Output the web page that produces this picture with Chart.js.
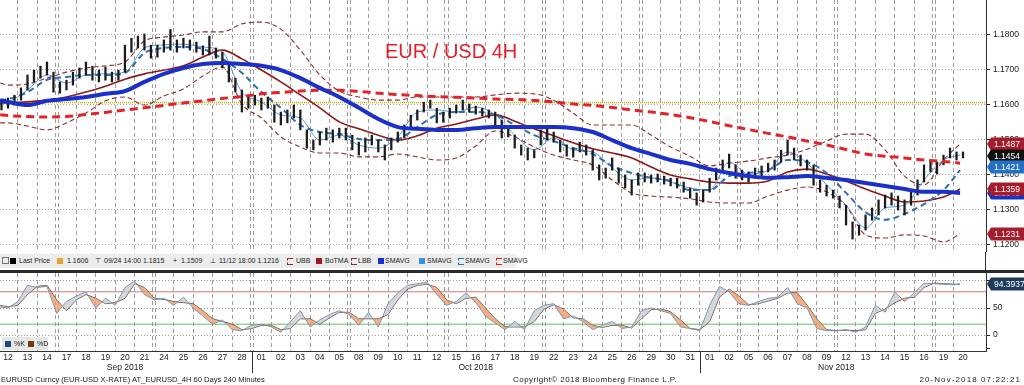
<!DOCTYPE html>
<html>
<head>
<meta charset="utf-8">
<script src="https://cdn.jsdelivr.net/npm/chart.js@4.4.1/dist/chart.umd.min.js"></script>
<style>
  body { margin: 0; background: #fff; font-family: "Liberation Sans", Arial, sans-serif; }
  #page { position: relative; width: 1024px; height: 385px; overflow: hidden; background: #fff; }
  .abs { position: absolute; }
  #mainBox { left: 0; top: 0; width: 1024px; height: 252px; }
  #stochBox { left: 0; top: 273px; width: 1024px; height: 112px; }
  #title { left: 385px; top: 41px; font-size: 20px; line-height: 20px; color: #e3202a; white-space: nowrap; }
  #legend { left: 0; top: 254px; width: 516px; height: 14px; background: #ececec; font-size: 7px; line-height: 14px; color: #222; }
  #legend span, #stochLegend span { position: absolute; white-space: nowrap; }
  .sq { width: 6px; height: 6px; top: 4px; }
  .dsh { width: 5px; height: 5px; top: 4px; border: 1px dashed; border-right: none; }
  #axisStub { left: 985px; top: 252px; width: 1px; height: 18px; background: #333; }
  #sep { left: 0; top: 270px; width: 1024px; height: 3px; background: #2b2b2b; }
  #stochLegend { left: 2px; top: 337px; width: 46px; height: 13px; background: #e6e6e6; font-size: 7px; line-height: 13px; color: #222; }
  .foot { top: 374px; font-size: 8px; line-height: 12px; color: #222; white-space: nowrap; }
</style>
</head>
<body>
<div id="page">
  <div id="mainBox" class="abs"><canvas id="mainChart"></canvas></div>
  <div id="stochBox" class="abs"><canvas id="stochChart"></canvas></div>

  <div id="title" class="abs">EUR / USD 4H</div>

  <div id="legend" class="abs">
    <span style="left:2px;top:3px;width:5px;height:5px;border:1px solid #777;"></span>
    <span class="sq" style="left:10px;background:#000"></span>
    <span style="left:19px">Last Price</span>
    <span class="sq" style="left:57px;background:#f0a030"></span>
    <span style="left:67px">1.1606</span>
    <span style="left:95px">&#8868;</span>
    <span style="left:104px">09/24 14:00 1.1815</span>
    <span style="left:173px">+</span>
    <span style="left:181px">1.1509</span>
    <span style="left:210px">&#8869;</span>
    <span style="left:219px">11/12 18:00 1.1216</span>
    <span class="dsh" style="left:287px;border-color:#8b3030"></span>
    <span style="left:296px">UBB</span>
    <span class="sq" style="left:316px;background:#a01828"></span>
    <span style="left:325px">BoTMA</span>
    <span class="dsh" style="left:351px;border-color:#8b3030"></span>
    <span style="left:358px">LBB</span>
    <span class="sq" style="left:378px;background:#1a30c8"></span>
    <span style="left:385px">SMAVG</span>
    <span class="sq" style="left:419px;background:#3a90e0"></span>
    <span style="left:427px">SMAVG</span>
    <span class="dsh" style="left:458px;border-color:#2f6fb0"></span>
    <span style="left:465px">SMAVG</span>
    <span class="dsh" style="left:496px;border-color:#e02020"></span>
    <span style="left:503px">SMAVG</span>
  </div>
  <div id="axisStub" class="abs"></div>
  <div id="sep" class="abs"></div>

  <div id="stochLegend" class="abs">
    <span class="sq" style="left:3px;background:#1f4a78"></span><span style="left:12px">%K</span>
    <span class="sq" style="left:26px;background:#7a3810"></span><span style="left:35px">%D</span>
  </div>

  <div class="abs foot" style="left:1px;font-size:7.6px">EURUSD Curncy (EUR-USD X-RATE) AT_EURUSD_4H 60 Days 240 Minutes</div>
  <div class="abs foot" style="left:513px;letter-spacing:0.45px">Copyright&copy; 2018 Bloomberg Finance L.P.</div>
  <div class="abs foot" style="right:3px;letter-spacing:1.1px">20-Nov-2018 07:22:21</div>
</div>

<script type="text/javascript">
    // trading days shown on the axis (MM-DD, 2018)
    const days = ['09-12','09-13','09-14','09-17','09-18','09-19','09-20','09-21','09-24','09-25','09-26','09-27','09-28',
        '10-01','10-02','10-03','10-04','10-05','10-08','10-09','10-10','10-11','10-12','10-15','10-16','10-17','10-18','10-19',
        '10-22','10-23','10-24','10-25','10-26','10-29','10-30','10-31',
        '11-01','11-02','11-05','11-06','11-07','11-08','11-09','11-12','11-13','11-14','11-15','11-16','11-19','11-20'];
    const monthAbbr = ['Jan','Feb','Mar','Apr','May','Jun','Jul','Aug','Sep','Oct','Nov','Dec'];

    // price bars, 3 per trading day (low / high)
    const barLows = [1.1585,1.1590,1.1599,1.1613,1.1642,1.1665,1.1676,1.1685,1.1636,1.1633,1.1642,1.1656,1.1676,1.1685,1.1670,1.1665,1.1670,1.1665,1.1670,1.1693,
        1.1750,1.1762,1.1756,1.1733,1.1736,1.1750,1.1756,1.1750,1.1762,1.1756,1.1750,1.1742,1.1742,1.1733,1.1705,1.1665,1.1636,1.1579,1.1590,1.1599,
        1.1585,1.1590,1.1550,1.1542,1.1548,1.1562,1.1528,1.1476,1.1471,1.1485,1.1499,1.1493,1.1505,1.1499,1.1471,1.1456,1.1465,1.1485,1.1465,1.1442,
        1.1471,1.1493,1.1505,1.1533,1.1556,1.1579,1.1590,1.1548,1.1550,1.1562,1.1576,1.1585,1.1579,1.1573,1.1568,1.1562,1.1542,1.1505,1.1508,1.1476,
        1.1456,1.1442,1.1448,1.1485,1.1499,1.1493,1.1465,1.1453,1.1450,1.1465,1.1456,1.1413,1.1385,1.1390,1.1413,1.1376,1.1362,1.1342,1.1370,1.1379,
        1.1376,1.1379,1.1373,1.1368,1.1362,1.1350,1.1333,1.1313,1.1322,1.1350,1.1385,1.1408,1.1419,1.1390,1.1385,1.1379,1.1390,1.1396,1.1408,1.1413,
        1.1436,1.1456,1.1442,1.1425,1.1413,1.1370,1.1350,1.1339,1.1333,1.1305,1.1256,1.1216,1.1227,1.1242,1.1270,1.1285,1.1305,1.1313,1.1299,1.1285,
        1.1313,1.1342,1.1379,1.1408,1.1402,1.1428,1.1448,1.1442,1.1448];
    const barHighs = [1.1613,1.1619,1.1627,1.1648,1.1685,1.1699,1.1710,1.1722,1.1693,1.1665,1.1670,1.1693,1.1705,1.1722,1.1710,1.1699,1.1707,1.1693,1.1699,1.1770,
        1.1790,1.1796,1.1802,1.1770,1.1770,1.1785,1.1815,1.1785,1.1790,1.1785,1.1779,1.1768,1.1796,1.1762,1.1750,1.1722,1.1676,1.1642,1.1627,1.1627,
        1.1619,1.1622,1.1599,1.1579,1.1585,1.1599,1.1585,1.1528,1.1499,1.1522,1.1533,1.1528,1.1533,1.1533,1.1513,1.1493,1.1505,1.1513,1.1499,1.1485,
        1.1505,1.1522,1.1542,1.1570,1.1585,1.1607,1.1613,1.1590,1.1579,1.1590,1.1599,1.1613,1.1602,1.1596,1.1590,1.1585,1.1579,1.1556,1.1533,1.1513,
        1.1485,1.1476,1.1471,1.1528,1.1533,1.1522,1.1499,1.1485,1.1476,1.1493,1.1485,1.1471,1.1428,1.1419,1.1448,1.1419,1.1399,1.1385,1.1405,1.1405,
        1.1399,1.1402,1.1396,1.1390,1.1390,1.1379,1.1362,1.1348,1.1356,1.1390,1.1419,1.1442,1.1459,1.1428,1.1413,1.1408,1.1419,1.1425,1.1433,1.1442,
        1.1470,1.1499,1.1476,1.1456,1.1442,1.1428,1.1385,1.1370,1.1356,1.1339,1.1313,1.1265,1.1256,1.1285,1.1305,1.1328,1.1342,1.1348,1.1339,1.1328,
        1.1356,1.1385,1.1428,1.1442,1.1436,1.1456,1.1476,1.1465,1.1465];

    // overlays, one value per trading day (plus the two chart edges)
    const ubb = [1.1662,1.1656,1.1659,1.1676,1.1693,1.1705,1.1711,1.1722,1.1782,1.1793,1.1799,1.1808,1.1808,1.1831,1.1836,1.1816,1.1756,1.1685,1.1639,1.1622,
        1.1613,1.1613,1.1622,1.1622,1.1622,1.1622,1.1628,1.1633,1.1631,1.1613,1.1576,1.1542,1.1542,1.1542,1.1513,1.1479,1.1453,1.1425,1.1433,1.1439,
        1.1448,1.1456,1.1473,1.1496,1.1516,1.1516,1.1471,1.1396,1.1371,1.1442,1.1488];
    const botma = [1.1605,1.1605,1.1608,1.1613,1.1622,1.1636,1.1653,1.1673,1.1688,1.1699,1.1711,1.1736,1.1756,1.1731,1.1699,1.1665,1.1628,1.1591,1.1551,1.1531,
        1.1513,1.1499,1.1511,1.1533,1.1545,1.1559,1.1571,1.1553,1.1531,1.1511,1.1491,1.1474,1.1462,1.1448,1.1422,1.1399,1.1388,1.1379,1.1376,1.1376,
        1.1382,1.1408,1.1416,1.1402,1.1382,1.1359,1.1339,1.1322,1.1325,1.1336,1.1359];
    const lbb = [1.1548,1.1548,1.1539,1.1528,1.1548,1.1576,1.1611,1.1622,1.1599,1.1625,1.1645,1.1682,1.1708,1.1602,1.1562,1.1508,1.1479,1.1462,1.1462,1.1451,
        1.1451,1.1459,1.1451,1.1442,1.1448,1.1482,1.1525,1.1508,1.1479,1.1456,1.1442,1.1428,1.1385,1.1348,1.1339,1.1336,1.1331,1.1322,1.1319,1.1319,
        1.1339,1.1356,1.1365,1.1351,1.1311,1.1228,1.1219,1.1228,1.1225,1.1208,1.1231];
    const smaThick = [1.1613,1.1608,1.1599,1.1611,1.1616,1.1622,1.1631,1.1639,1.1665,1.1688,1.1705,1.1716,1.1719,1.1716,1.1711,1.1699,1.1676,1.1648,1.1622,1.1591,
        1.1559,1.1536,1.1531,1.1528,1.1528,1.1533,1.1536,1.1536,1.1536,1.1536,1.1533,1.1522,1.1499,1.1476,1.1459,1.1442,1.1431,1.1416,1.1405,1.1396,
        1.1391,1.1393,1.1396,1.1391,1.1385,1.1376,1.1368,1.1359,1.1351,1.1351,1.1348];
    const smaLight = [1.1605,1.1608,1.1642,1.1685,1.1662,1.1685,1.1688,1.1693,1.1762,1.1771,1.1773,1.1765,1.1751,1.1636,1.1608,1.1571,1.1562,1.1499,1.1513,1.1485,
        1.1476,1.1508,1.1579,1.1585,1.1579,1.1593,1.1571,1.1513,1.1471,1.1505,1.1471,1.1465,1.1419,1.1385,1.1391,1.1379,1.1362,1.1356,1.1436,1.1402,
        1.1413,1.1465,1.1433,1.1371,1.1313,1.1248,1.1305,1.1313,1.1385,1.1442,1.1456];
    const smaSteel = [1.1613,1.1616,1.1636,1.1671,1.1679,1.1685,1.1685,1.1691,1.1748,1.1762,1.1765,1.1759,1.1731,1.1691,1.1636,1.1591,1.1542,1.1522,1.1516,1.1502,
        1.1499,1.1502,1.1536,1.1571,1.1579,1.1579,1.1571,1.1542,1.1513,1.1496,1.1476,1.1459,1.1425,1.1405,1.1391,1.1382,1.1356,1.1356,1.1396,1.1405,
        1.1413,1.1442,1.1436,1.1405,1.1348,1.1293,1.1271,1.1288,1.1316,1.1356,1.1413];
    const smaRed = [1.1571,1.1569,1.1566,1.1565,1.1566,1.1572,1.1578,1.1585,1.1591,1.1598,1.1605,1.1611,1.1618,1.1623,1.1631,1.1635,1.1639,1.1641,1.1641,1.1638,
        1.1633,1.1629,1.1626,1.1623,1.1621,1.1619,1.1616,1.1615,1.1612,1.1608,1.1602,1.1598,1.1592,1.1585,1.1579,1.1572,1.1563,1.1552,1.1540,1.1529,
        1.1518,1.1508,1.1496,1.1485,1.1472,1.1459,1.1453,1.1448,1.1442,1.1438,1.1433];
    const lastPriceLine = 1.1606;
    const priceTicks = [1.12, 1.13, 1.14, 1.15, 1.16, 1.17, 1.18];
    const priceTags = [1.1487, 1.1454, 1.1421, 1.1348, 1.1359, 1.1231];
    const priceTagColors = ['#a51d2d', '#111111', '#2470c6', '#1a32c0', '#a51d2d', '#a51d2d'];

    // stochastics, two readings per trading day (plus the two chart edges)
    const stochK = [52, 50,62, 92,88, 90,40, 62,72, 80,50, 68,55, 88,100, 75,65, 68,55, 70,50, 35,20, 28,10, 8,18, 20,15, 5,25,
        45,15, 28,38, 45,38, 18,42, 15,58, 78,92, 95,98, 75,55, 62,78, 60,35, 22,10, 25,10, 45,55, 58,30, 35,25, 10,18,
        25,12, 15,45, 50,45, 40,15, 12,8, 55,90, 80,58, 55,62, 68,70, 88,58, 50,12, 8,8, 10,5, 15,55, 42,80, 62,78, 96,95, 94,93, 94.4];
    const stochD = [55, 52,55, 75,90, 92,65, 45,65, 75,68, 58,60, 68,95, 88,68, 66,62, 60,58, 45,30, 25,20, 10,12, 18,18, 10,12,
        30,30, 20,32, 42,42, 30,30, 30,38, 65,85, 92,94, 88,65, 58,68, 70,50, 30,15, 15,15, 25,48, 56,48, 32,30, 18,14,
        18,18, 13,30, 47,48, 43,28, 12,10, 25,70, 85,72, 56,58, 63,68, 78,78, 55,30, 10,8, 9,8, 10,40, 48,60, 68,70, 88,96, 95,94, 94];
    const stochUpper = 80;
    const stochLower = 20;
    const stochTicks = [-25, 0, 50, 100];
    const stochTag = 94.3937;

    const X_MIN = -0.41, X_MAX = 50.18;
    const Y_MIN = 1.117914, Y_MAX = 1.189914;
    const S_MIN = -29.6, S_MAX = 114.8;

    Chart.defaults.font.family = '"Liberation Sans", Arial, sans-serif';
    Chart.defaults.font.size = 8.5;
    Chart.defaults.color = '#222';

    const dates = days.map(s => new Date(2018, Number(s.slice(0, 2)) - 1, Number(s.slice(3))));
    const DAY_MS = 86400000;

    // day boundaries, doubled over weekends
    const gridTicks = [];
    for (let i = 0; i < dates.length - 1; i++) {
        const b = i + 0.5;
        if (dates[i + 1] - dates[i] > 1.5 * DAY_MS) gridTicks.push(b - 0.08, b + 0.08);
        else gridTicks.push(b);
    }

    function dayPos(t) {
        for (let i = 0; i < dates.length - 1; i++) {
            if (t >= dates[i] && t <= dates[i + 1]) return i + (t - dates[i]) / (dates[i + 1] - dates[i]);
        }
        return dates.length - 1;
    }
    const months = [];
    dates.forEach((d, i) => {
        let cur = months[months.length - 1];
        if (!cur || cur.m !== d.getMonth()) {
            cur = {m: d.getMonth(), first: d, start: i};
            months.push(cur);
        }
        cur.last = d;
    });
    months.forEach(mo => {
        mo.center = dayPos(new Date((mo.first.getTime() + mo.last.getTime()) / 2));
        mo.name = monthAbbr[mo.m] + ' ' + mo.first.getFullYear();
    });

    const lineDays = [-0.4, ...Array.from({length: 49}, (_, i) => i), 48.85];
    const stochTimes = [-0.4, ...Array.from({length: 98}, (_, i) => i / 2), 48.85];
    const pts = (xs, vals) => vals.map((v, i) => ({x: xs[i], y: v}));
    const flat = v => [{x: X_MIN, y: v}, {x: X_MAX, y: v}];
    const bars = barLows.map((lo, j) => ({x: (j - 1) / 3, y: [lo, barHighs[j]]}));

    function makeTagPlugin(values, colors, texts) {
        return {
            id: 'tags',
            afterDraw(chart) {
                const ctx = chart.ctx;
                const y = chart.scales.y;
                const x0 = chart.chartArea.right;
                values.forEach((v, i) => {
                    const py = Math.round(y.getPixelForValue(v));
                    ctx.save();
                    ctx.fillStyle = colors[i];
                    ctx.beginPath();
                    ctx.moveTo(x0 + 1, py);
                    ctx.lineTo(x0 + 5, py - 6.5);
                    ctx.lineTo(chart.width, py - 6.5);
                    ctx.lineTo(chart.width, py + 6.5);
                    ctx.lineTo(x0 + 5, py + 6.5);
                    ctx.closePath();
                    ctx.fill();
                    ctx.fillStyle = '#fff';
                    ctx.font = '8.5px "Liberation Sans", Arial, sans-serif';
                    ctx.textBaseline = 'middle';
                    ctx.fillText(texts[i], x0 + 8, py + 0.5);
                    ctx.restore();
                });
            }
        };
    }

    const monthPlugin = {
        id: 'months',
        afterDraw(chart) {
            const ctx = chart.ctx;
            const x = chart.scales.x;
            const bottom = chart.chartArea.bottom;
            ctx.save();
            ctx.fillStyle = '#222';
            ctx.font = '8.5px "Liberation Sans", Arial, sans-serif';
            ctx.textAlign = 'center';
            ctx.textBaseline = 'middle';
            months.forEach(mo => ctx.fillText(mo.name, x.getPixelForValue(mo.center), bottom + 17));
            ctx.strokeStyle = '#333';
            ctx.lineWidth = 1;
            months.slice(1).forEach(mo => {
                const px = Math.round(x.getPixelForValue(mo.start - 0.5)) + 0.5;
                ctx.beginPath();
                ctx.moveTo(px, bottom);
                ctx.lineTo(px, bottom + 22);
                ctx.stroke();
            });
            ctx.restore();
        }
    };

    const smooth = {pointRadius: 0, cubicInterpolationMode: 'monotone', fill: false};

    new Chart(document.getElementById('mainChart'), {
        type: 'line',
        data: {
            datasets: [
                {type: 'bar', data: bars, backgroundColor: '#1b1b1b', barThickness: 1.6, order: 3},
                Object.assign({data: pts(lineDays, smaThick), borderColor: '#1a30c8', borderWidth: 4, order: 1}, smooth),
                Object.assign({data: pts(lineDays, smaRed), borderColor: '#e4222a', borderWidth: 3, borderDash: [8, 5], order: 2}, smooth),
                Object.assign({data: pts(lineDays, smaSteel), borderColor: '#2f6fb0', borderWidth: 2, borderDash: [6, 4], order: 4}, smooth),
                Object.assign({data: pts(lineDays, smaLight), borderColor: '#5a9ad6', borderWidth: 1, order: 5}, smooth),
                Object.assign({data: pts(lineDays, botma), borderColor: '#8b1a1a', borderWidth: 1.6, order: 6}, smooth),
                Object.assign({data: pts(lineDays, ubb), borderColor: '#8b3030', borderWidth: 1.1, borderDash: [5, 3], order: 7}, smooth),
                Object.assign({data: pts(lineDays, lbb), borderColor: '#8b3030', borderWidth: 1.1, borderDash: [5, 3], order: 7}, smooth),
                {data: flat(lastPriceLine), borderColor: '#c9b400', borderWidth: 1.5, borderDash: [1, 1], pointRadius: 0, order: 9}
            ]
        },
        options: {
            animation: false,
            responsive: true,
            maintainAspectRatio: false,
            events: [],
            layout: {padding: 0},
            plugins: {legend: {display: false}, tooltip: {enabled: false}},
            scales: {
                x: {
                    type: 'linear', min: X_MIN, max: X_MAX, offset: false,
                    afterBuildTicks: s => { s.ticks = gridTicks.map(v => ({value: v})); },
                    afterFit: s => { s.height = 0; s.paddingLeft = 0; s.paddingRight = 0; },
                    ticks: {display: false},
                    grid: {offset: false, color: '#9d9d9d', drawTicks: false},
                    border: {display: false, dash: [4, 3]}
                },
                y: {
                    position: 'right', min: Y_MIN, max: Y_MAX,
                    afterBuildTicks: s => { s.ticks = priceTicks.map(v => ({value: v})); },
                    afterFit: s => { s.width = 38; s.paddingTop = 0; s.paddingBottom = 0; },
                    ticks: {callback: v => v.toFixed(4), padding: 3, color: '#222'},
                    grid: {color: '#a5a5a5', tickColor: '#222', tickLength: 4},
                    border: {display: true, color: '#333', dash: [1, 2]}
                }
            }
        },
        plugins: [makeTagPlugin(priceTags, priceTagColors, priceTags.map(v => v.toFixed(4)))]
    });

    new Chart(document.getElementById('stochChart'), {
        type: 'line',
        data: {
            datasets: [
                {data: pts(stochTimes, stochK), xAxisID: 'x', borderColor: '#7f96ad', borderWidth: 1, pointRadius: 0,
                    fill: {target: '+1', above: 'rgba(200,202,208,0.75)', below: 'rgba(243,156,104,0.8)'}, order: 1},
                {data: pts(stochTimes, stochD), xAxisID: 'x', borderColor: '#4a4a4a', borderWidth: 1, pointRadius: 0, order: 2},
                {data: flat(stochUpper), xAxisID: 'x', borderColor: '#d47272', borderWidth: 1, pointRadius: 0, order: 3},
                {data: flat(stochLower), xAxisID: 'x', borderColor: '#66c066', borderWidth: 1, pointRadius: 0, order: 3}
            ]
        },
        options: {
            animation: false,
            responsive: true,
            maintainAspectRatio: false,
            events: [],
            layout: {padding: 0},
            plugins: {legend: {display: false}, tooltip: {enabled: false}},
            scales: {
                x: {
                    type: 'linear', min: X_MIN, max: X_MAX, offset: false,
                    afterBuildTicks: s => { s.ticks = days.map((_, i) => ({value: i})); },
                    afterFit: s => { s.height = 34; s.paddingLeft = 0; s.paddingRight = 0; },
                    ticks: {callback: v => days[v] ? days[v].slice(3) : '', autoSkip: false, maxRotation: 0, padding: 2, color: '#222'},
                    grid: {display: false, drawTicks: false, offset: false},
                    border: {display: true, color: '#333'}
                },
                xg: {
                    type: 'linear', position: 'top', min: X_MIN, max: X_MAX, offset: false,
                    afterBuildTicks: s => { s.ticks = gridTicks.map(v => ({value: v})); },
                    afterFit: s => { s.height = 0; s.paddingLeft = 0; s.paddingRight = 0; },
                    ticks: {display: false},
                    grid: {offset: false, color: '#9d9d9d', drawTicks: false},
                    border: {display: false, dash: [4, 3]}
                },
                y: {
                    position: 'right', min: S_MIN, max: S_MAX,
                    afterBuildTicks: s => { s.ticks = stochTicks.map(v => ({value: v})); },
                    afterFit: s => { s.width = 38; s.paddingTop = 0; s.paddingBottom = 0; },
                    ticks: {callback: v => (v === 0 || v === 50) ? String(v) : '', padding: 3, color: '#222'},
                    grid: {color: c => (c.tick && c.tick.value >= 0) ? '#9a9a9a' : 'rgba(0,0,0,0)', tickColor: '#222', tickLength: 4},
                    border: {display: true, color: '#333', dash: [1, 2]}
                }
            }
        },
        plugins: [monthPlugin, makeTagPlugin([stochTag], ['#1f3b5c'], [stochTag.toFixed(4)])]
    });
</script>
</body>
</html>
